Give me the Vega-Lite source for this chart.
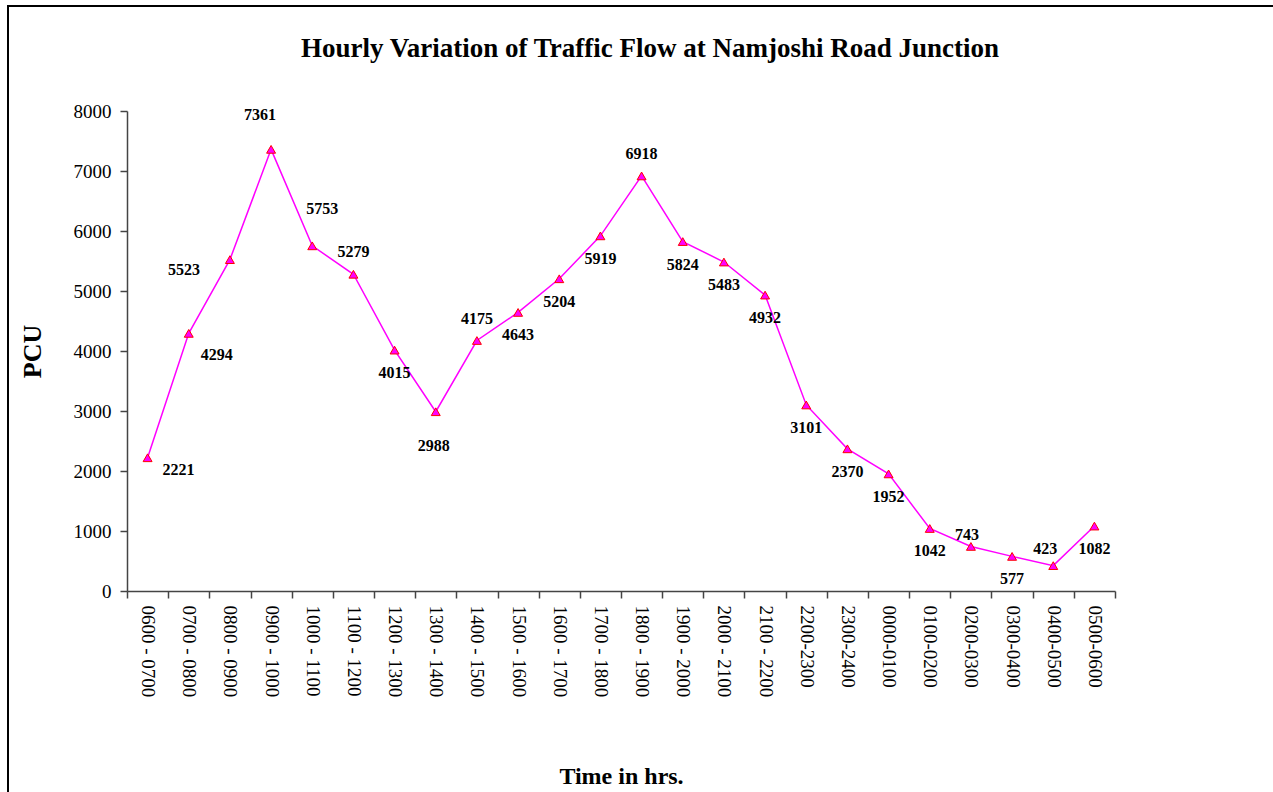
{
  "$schema": "https://vega.github.io/schema/vega-lite/v6.json",
  "width": 988,
  "height": 480,
  "autosize": {"type": "none"},
  "padding": {"left": 127, "top": 111, "right": 158, "bottom": 201},
  "background": "white",
  "config": {
    "font": "Liberation Serif",
    "view": {"stroke": null},
    "axis": {"labelFont": "Liberation Serif", "titleFont": "Liberation Serif", "labelColor": "black", "titleColor": "black", "domainColor": "#444", "tickColor": "#444", "domainWidth": 1.5, "tickWidth": 1.5, "grid": false}
  },
  "title": {
    "text": "Hourly Variation of Traffic Flow at Namjoshi Road Junction",
    "font": "Liberation Serif",
    "fontSize": 27,
    "fontWeight": "bold",
    "color": "black",
    "anchor": "middle",
    "frame": "group",
    "offset": -58,
    "dx": 29
  },
  "data": {
    "values": [
      {"time": "0600 - 0700", "pcu": 2221},
      {"time": "0700 - 0800", "pcu": 4294},
      {"time": "0800 - 0900", "pcu": 5523},
      {"time": "0900 - 1000", "pcu": 7361},
      {"time": "1000 - 1100", "pcu": 5753},
      {"time": "1100 - 1200", "pcu": 5279},
      {"time": "1200 - 1300", "pcu": 4015},
      {"time": "1300 - 1400", "pcu": 2988},
      {"time": "1400 - 1500", "pcu": 4175},
      {"time": "1500 - 1600", "pcu": 4643},
      {"time": "1600 - 1700", "pcu": 5204},
      {"time": "1700 - 1800", "pcu": 5919},
      {"time": "1800 - 1900", "pcu": 6918},
      {"time": "1900 - 2000", "pcu": 5824},
      {"time": "2000 - 2100", "pcu": 5483},
      {"time": "2100 - 2200", "pcu": 4932},
      {"time": "2200-2300", "pcu": 3101},
      {"time": "2300-2400", "pcu": 2370},
      {"time": "0000-0100", "pcu": 1952},
      {"time": "0100-0200", "pcu": 1042},
      {"time": "0200-0300", "pcu": 743},
      {"time": "0300-0400", "pcu": 577},
      {"time": "0400-0500", "pcu": 423},
      {"time": "0500-0600", "pcu": 1082}
    ]
  },
  "encoding": {
    "x": {
      "field": "time", "type": "nominal", "sort": null, "bandPosition": 0.5,
      "scale": {"type": "band", "paddingInner": 0, "paddingOuter": 0},
      "axis": {"title": "Time in hrs.", "titleFontSize": 24, "titleFontWeight": "bold", "titlePadding": 68, "labelAngle": 90, "labelAlign": "left", "labelBaseline": "middle", "labelFontSize": 19, "labelPadding": 7, "tickSize": 7, "tickBand": "extent", "labelFontWeight": "normal"}
    },
    "y": {
      "field": "pcu", "type": "quantitative",
      "scale": {"domain": [0, 8000], "nice": false},
      "axis": {"title": "PCU", "titleFontSize": 26, "titleFontWeight": "bold", "titlePadding": 28, "values": [0, 1000, 2000, 3000, 4000, 5000, 6000, 7000, 8000], "labelFontSize": 19, "labelPadding": 9, "tickSize": 7, "format": "d"}
    }
  },
  "layer": [
    {
      "data": {"values": [{"frame": 1}]},
      "mark": {"type": "rect", "fill": null, "stroke": "black", "strokeWidth": 2},
      "encoding": {"x": {"value": -119}, "x2": {"value": 1300}, "y": {"value": -105}, "y2": {"value": 800}}
    },
    {
      "mark": {"type": "line", "color": "#FF00FF", "strokeWidth": 1.5}
    },
    {
      "mark": {"type": "point", "shape": "triangle-up", "filled": true, "fill": "#FF00FF", "stroke": "#FF0000", "strokeWidth": 1, "size": 80, "opacity": 1}
    },
    {
      "transform": [{"filter": {"field": "time", "oneOf": ["1200 - 1300", "1500 - 1600", "1600 - 1700", "1700 - 1800", "1900 - 2000", "2000 - 2100", "2100 - 2200", "2200-2300", "2300-2400", "0000-0100", "0100-0200", "0300-0400", "0500-0600"]}}],
      "mark": {"type": "text", "font": "Liberation Serif", "fontWeight": "bold", "fontSize": 16, "color": "black", "baseline": "middle", "align": "center", "dy": 23},
      "encoding": {"text": {"field": "pcu", "type": "quantitative", "format": "d"}}
    },
    {
      "transform": [{"filter": {"field": "time", "oneOf": ["1100 - 1200", "1400 - 1500", "1800 - 1900"]}}],
      "mark": {"type": "text", "font": "Liberation Serif", "fontWeight": "bold", "fontSize": 16, "color": "black", "baseline": "middle", "align": "center", "dy": -22},
      "encoding": {"text": {"field": "pcu", "type": "quantitative", "format": "d"}}
    },
    {
      "transform": [{"filter": {"field": "time", "equal": "0600 - 0700"}}],
      "mark": {"type": "text", "font": "Liberation Serif", "fontWeight": "bold", "fontSize": 16, "color": "black", "baseline": "middle", "align": "center", "dx": 31, "dy": 12},
      "encoding": {"text": {"field": "pcu", "type": "quantitative", "format": "d"}}
    },
    {
      "transform": [{"filter": {"field": "time", "equal": "0700 - 0800"}}],
      "mark": {"type": "text", "font": "Liberation Serif", "fontWeight": "bold", "fontSize": 16, "color": "black", "baseline": "middle", "align": "center", "dx": 28, "dy": 22},
      "encoding": {"text": {"field": "pcu", "type": "quantitative", "format": "d"}}
    },
    {
      "transform": [{"filter": {"field": "time", "equal": "0800 - 0900"}}],
      "mark": {"type": "text", "font": "Liberation Serif", "fontWeight": "bold", "fontSize": 16, "color": "black", "baseline": "middle", "align": "center", "dx": -46, "dy": 10},
      "encoding": {"text": {"field": "pcu", "type": "quantitative", "format": "d"}}
    },
    {
      "transform": [{"filter": {"field": "time", "equal": "0900 - 1000"}}],
      "mark": {"type": "text", "font": "Liberation Serif", "fontWeight": "bold", "fontSize": 16, "color": "black", "baseline": "middle", "align": "center", "dx": -11, "dy": -34},
      "encoding": {"text": {"field": "pcu", "type": "quantitative", "format": "d"}}
    },
    {
      "transform": [{"filter": {"field": "time", "equal": "1000 - 1100"}}],
      "mark": {"type": "text", "font": "Liberation Serif", "fontWeight": "bold", "fontSize": 16, "color": "black", "baseline": "middle", "align": "center", "dx": 10, "dy": -37},
      "encoding": {"text": {"field": "pcu", "type": "quantitative", "format": "d"}}
    },
    {
      "transform": [{"filter": {"field": "time", "equal": "1300 - 1400"}}],
      "mark": {"type": "text", "font": "Liberation Serif", "fontWeight": "bold", "fontSize": 16, "color": "black", "baseline": "middle", "align": "center", "dx": -2, "dy": 34},
      "encoding": {"text": {"field": "pcu", "type": "quantitative", "format": "d"}}
    },
    {
      "transform": [{"filter": {"field": "time", "equal": "0200-0300"}}],
      "mark": {"type": "text", "font": "Liberation Serif", "fontWeight": "bold", "fontSize": 16, "color": "black", "baseline": "middle", "align": "center", "dx": -4, "dy": -11},
      "encoding": {"text": {"field": "pcu", "type": "quantitative", "format": "d"}}
    },
    {
      "transform": [{"filter": {"field": "time", "equal": "0400-0500"}}],
      "mark": {"type": "text", "font": "Liberation Serif", "fontWeight": "bold", "fontSize": 16, "color": "black", "baseline": "middle", "align": "center", "dx": -8, "dy": -17},
      "encoding": {"text": {"field": "pcu", "type": "quantitative", "format": "d"}}
    }
  ]
}
